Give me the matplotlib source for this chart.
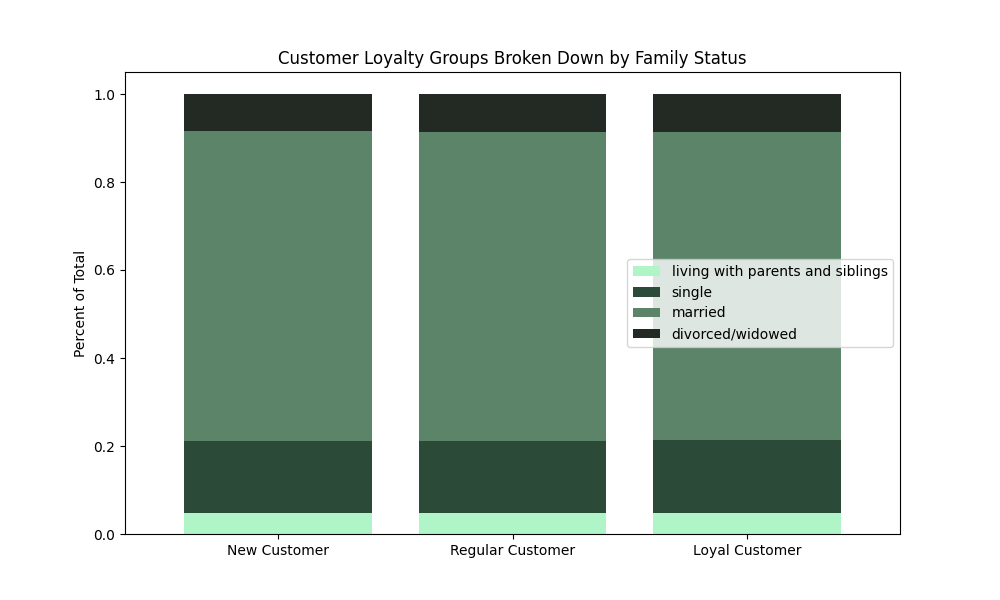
import matplotlib
matplotlib.use("Agg")
import matplotlib.pyplot as plt
import numpy as np

categories = ["New Customer", "Regular Customer", "Loyal Customer"]
series_names = ["living with parents and siblings", "single", "married", "divorced/widowed"]
living = [0.048, 0.048, 0.048]
single = [0.163, 0.163, 0.166]
married = [0.705, 0.703, 0.700]
divorced = [0.084, 0.086, 0.086]
colors = ["#b0f5c8", "#2b4a37", "#5c8469", "#222a23"]

fig, ax = plt.subplots(figsize=(10, 6), dpi=100)
bottom = np.zeros(len(categories))
for name, vals, c in zip(series_names, [living, single, married, divorced], colors):
    ax.bar(categories, vals, bottom=bottom, color=c, label=name, width=0.8)
    bottom += np.array(vals)

ax.set_xlim(-0.652, 2.652)
ax.set_ylabel("Percent of Total")
ax.set_title("Customer Loyalty Groups Broken Down by Family Status")
ax.legend(loc="center right")
fig.savefig("out.png", dpi=100)
